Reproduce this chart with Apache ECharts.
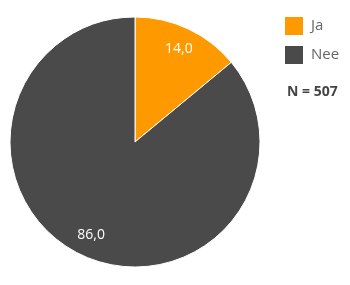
<!DOCTYPE html>
<html><head><meta charset="utf-8">
<script src="https://cdn.jsdelivr.net/npm/echarts@6/dist/echarts.min.js"></script>
<style>html,body{margin:0;padding:0;background:#fff}#c{width:350px;height:285px}</style>
</head><body><div id="c"></div>
<script>
const categories = ['Ja', 'Nee'];
const values = [14.0, 86.0];
const colors = ['#FF9900', '#4A4A4A'];
const nText = 'N = 507';

const font = 'Open Sans';
const data = categories.map((c, i) => ({name: c, value: values[i], itemStyle: {color: colors[i]}}));
const chart = echarts.init(document.getElementById('c'), null, {renderer: 'canvas'});
chart.setOption({
  animation: false,
  title: {text: nText, left: 282, top: 80, textStyle: {fontFamily: font, fontSize: 14, fontWeight: 'bold', color: '#444'}},
  legend: {
    orient: 'vertical', left: 285, top: 17, itemWidth: 18, itemHeight: 18, itemGap: 11,
    icon: 'rect', data: categories, padding: 0,
    itemStyle: {borderWidth: 0},
    textStyle: {fontFamily: font, fontSize: 15, color: '#666', padding: [0, 0, 0, 3]}
  },
  series: [{
    type: 'pie', center: [135, 142], radius: [0, 125], startAngle: 90, clockwise: true,
    data: data, label: {show: false}, labelLine: {show: false}, silent: true,
    itemStyle: {borderColor: '#fff', borderWidth: 1}
  }, {
    type: 'pie', center: [135, 142], radius: [75, 125], startAngle: 90, clockwise: true,
    data: categories.map((c, i) => ({name: c, value: values[i]})),
    itemStyle: {color: 'rgba(0,0,0,0)'}, silent: true, legendHoverLink: false,
    label: {show: true, position: 'inside', color: '#fff', fontFamily: font, fontSize: 14,
      formatter: p => p.value.toFixed(1).replace('.', ',')},
    labelLine: {show: false}
  }]
});
</script></body></html>
